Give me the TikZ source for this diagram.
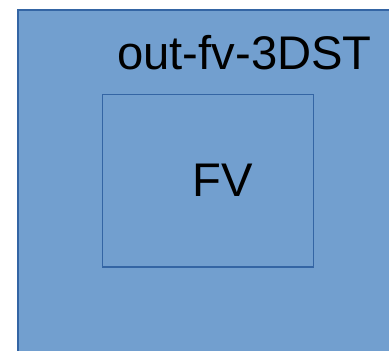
\documentclass[tikz,border=0pt]{standalone}
\usepackage{fontspec}
\setmainfont{Liberation Sans}
\usetikzlibrary{positioning}
\definecolor{fvfill}{HTML}{729FCF}
\definecolor{fvedge}{HTML}{3465A4}
\tikzset{
  regionbox/.style={draw=fvedge, fill=fvfill, line width=0.8pt},
  innerbox/.style={draw=fvedge, line width=0.8pt},
  bigtext/.style={font=\fontsize{35.4}{42}\selectfont, inner sep=0pt, anchor=base}
}
\begin{document}
\begin{tikzpicture}[x=0.75pt, y=-0.75pt]
  \useasboundingbox (0,0) rectangle (389,350);
  % outer domain
  \draw[regionbox] (18,10) rectangle (400,362);
  \node[bigtext] (outlabel) at (244.5,69) {out-fv-3DST};
  % inner finite volume
  \draw[innerbox] (102.3,94.3) rectangle (313.7,267);
  \node[bigtext] (fvlabel) at (222.5,196.7) {FV};
\end{tikzpicture}
\end{document}
